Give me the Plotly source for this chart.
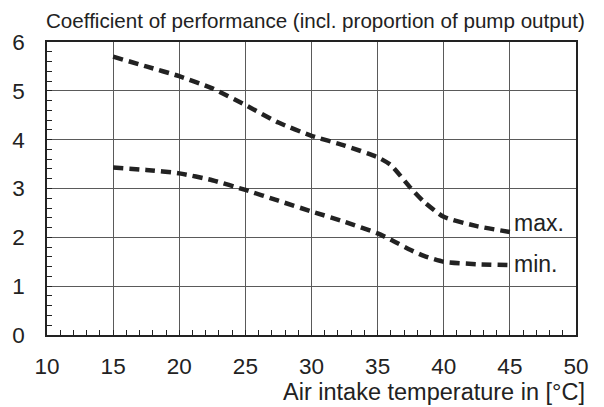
import plotly.graph_objects as go

# Air intake temperature [°C]
temp = [15, 17.5, 20, 22.5, 25, 27.5, 30, 32.5, 35, 36, 37.5, 38.5, 40, 42.5, 45]
# Coefficient of performance, upper and lower bound
cop_max = [5.70, 5.50, 5.30, 5.05, 4.71, 4.35, 4.08, 3.88, 3.64, 3.48, 3.01, 2.73, 2.42, 2.23, 2.11]
cop_min = [3.43, 3.38, 3.31, 3.17, 2.97, 2.75, 2.53, 2.32, 2.08, 1.95, 1.74, 1.62, 1.50, 1.45, 1.43]

x_ticks = [10, 15, 20, 25, 30, 35, 40, 45, 50]
y_ticks = [0, 1, 2, 3, 4, 5, 6]

ink = "#222222"
grid = "#5a5a5a"
font = "Liberation Sans, Arial, sans-serif"

fig = go.Figure()
for ys in (cop_max, cop_min):
    fig.add_trace(go.Scatter(
        x=temp, y=ys, mode="lines",
        line=dict(color=ink, width=4.5, dash="10px,6px", shape="spline", smoothing=0.6),
        showlegend=False, hoverinfo="skip",
    ))

for ys, label, dy in ((cop_max, "max.", 9), (cop_min, "min.", 1)):
    fig.add_annotation(x=temp[-1], y=ys[-1], text=label, showarrow=False,
                       xanchor="left", yanchor="middle", xshift=2, yshift=dy,
                       font=dict(size=23, color=ink, family=font))

fig.add_annotation(xref="paper", yref="paper", x=1.02, y=1.0, yshift=22,
                   text="Coefficient of performance (incl. proportion of pump output)",
                   showarrow=False, xanchor="right", yanchor="middle",
                   font=dict(size=20.6, color=ink, family=font))
fig.add_annotation(xref="paper", yref="paper", x=1.02, y=0, yshift=-57,
                   text="Air intake temperature in [°C]",
                   showarrow=False, xanchor="right", yanchor="middle",
                   font=dict(size=23.5, color=ink, family=font))

fig.update_xaxes(
    range=[10, 50], tickvals=x_ticks, showgrid=True, gridcolor=grid, gridwidth=1.3,
    showline=True, linecolor=ink, linewidth=1.5, mirror=True,
    ticks="inside", ticklen=5, tickcolor=ink, ticklabelstandoff=10,
    tickfont=dict(size=22.5, color=ink, family=font), zeroline=False,
    minor=dict(dtick=1, ticks="inside", ticklen=5, tickcolor=ink, showgrid=False),
)
fig.update_yaxes(
    range=[0, 6], tickvals=y_ticks, showgrid=True, gridcolor=grid, gridwidth=1.3,
    showline=True, linecolor=ink, linewidth=1.5, mirror=True,
    ticks="inside", ticklen=5, tickcolor=ink, ticklabelstandoff=16,
    tickfont=dict(size=22.5, color=ink, family=font), zeroline=False,
    minor=dict(dtick=0.2, ticks="inside", ticklen=5, tickcolor=ink, showgrid=False),
)
fig.update_layout(
    width=604, height=407, margin=dict(l=44, r=28, t=42, b=72),
    paper_bgcolor="white", plot_bgcolor="white",
    font=dict(family=font, color=ink),
)
fig.write_html("out.html")
